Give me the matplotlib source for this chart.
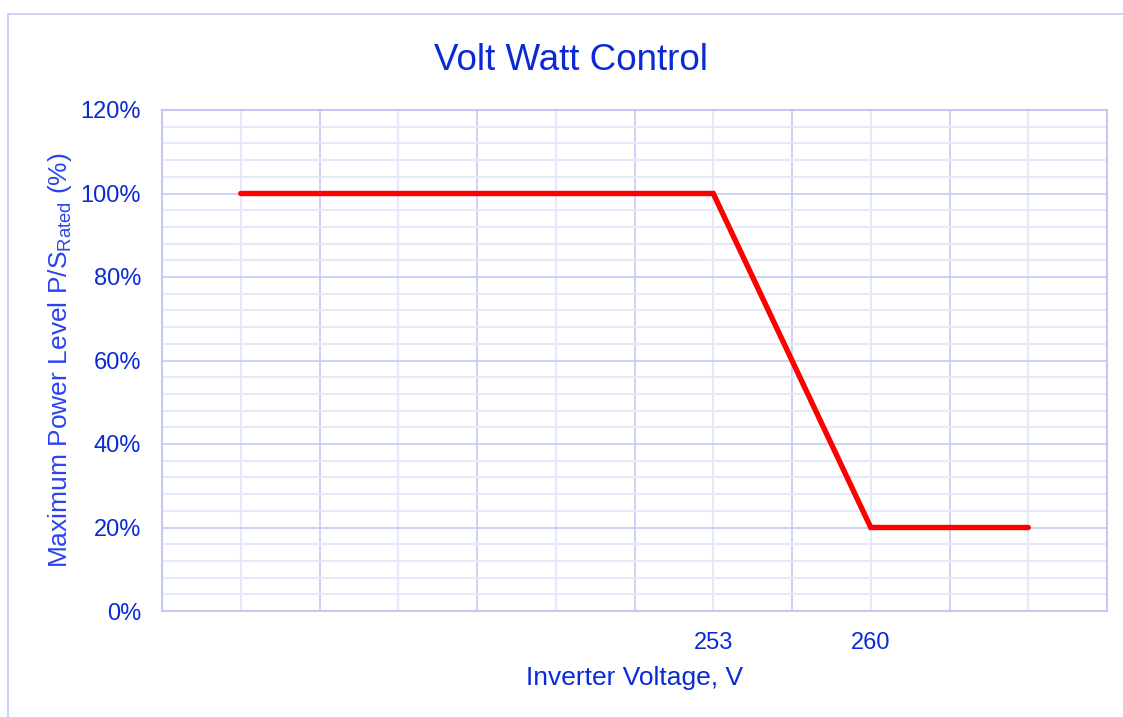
import numpy as np
import matplotlib.pyplot as plt
from matplotlib.patches import Rectangle

# volt-watt curve points
voltage = [232, 253, 260, 267]
power_pct = [100, 100, 20, 20]

x_ticks = [253, 260]
x_tick_labels = ["253", "260"]
y_ticks = [0, 20, 40, 60, 80, 100, 120]

plt.rcParams['font.family'] = ['Liberation Sans', 'DejaVu Sans']

major_col = "#c2c9f7"
minor_col = "#e6e9fc"
text_col = "#0a2ad6"

fig = plt.figure(figsize=(11.23, 7.17), dpi=100)
ax = fig.add_axes([162/1123, 1-611/717, 945/1123, 501/717])

# outer chart border (cropped on right/bottom)
fig.patches.append(Rectangle((8/1123, -0.1), 1.2, 1 - 14/717 + 0.1, transform=fig.transFigure,
                             fill=False, edgecolor=major_col, linewidth=1.2))

xmin, xmax = 228.5, 270.5
ax.set_xlim(xmin, xmax)
ax.set_ylim(0, 120)

# grid lines
for xv in np.arange(xmin + 3.5, xmax, 7):
    ax.axvline(xv, color=minor_col, lw=1.5, zorder=1)
for xv in np.arange(xmin + 7, xmax, 7):
    ax.axvline(xv, color=major_col, lw=1.2, zorder=1)
for yv in range(4, 120, 4):
    if yv % 20:
        ax.axhline(yv, color=minor_col, lw=1.5, zorder=1)
for yv in range(20, 120, 20):
    ax.axhline(yv, color=major_col, lw=1.2, zorder=1)

for s in ax.spines.values():
    s.set_color(major_col)
    s.set_linewidth(1.5)

ax.plot(voltage, power_pct, color="#ff0000", lw=3.9, solid_capstyle="round",
        solid_joinstyle="miter", zorder=3)

ax.set_xticks(x_ticks)
ax.set_xticklabels(x_tick_labels)
ax.set_yticks(y_ticks)
ax.set_yticklabels([f"{v}%" for v in y_ticks])
ax.tick_params(axis="both", length=0, labelsize=17, colors=text_col)
ax.tick_params(axis="y", pad=15)
ax.tick_params(axis="x", pad=15)

fig.text(571/1123, 1-60/717, "Volt Watt Control", ha="center", va="center",
         fontsize=26.5, color=text_col)
fig.text(635/1123, 1-678/717, "Inverter Voltage, V", ha="center", va="center",
         fontsize=19, color=text_col)
fig.text(60/1123, 1-360/717, r"Maximum Power Level P/S$_{\mathregular{Rated}}$ (%)",
         ha="center", va="center", rotation=90, fontsize=19, color="#2a42f2")

fig.savefig("out.png", dpi=100)
